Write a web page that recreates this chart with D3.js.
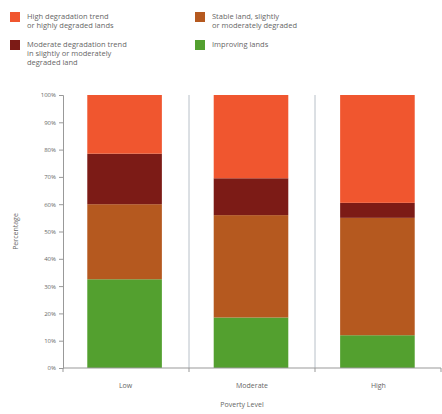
<!DOCTYPE html>
<html>
<head>
<meta charset="utf-8">
<script src="https://cdn.jsdelivr.net/npm/d3@7"></script>
<style>
  body { margin: 0; background: #fff; }
  text { font-family: "Open Sans", "DejaVu Sans", sans-serif; fill: #666; }
</style>
</head>
<body>
<div id="chart"></div>
<script>
'use strict';

// poverty level categories
var categories = ["Low", "Moderate", "High"];
// stacked series, bottom to top (percent)
var improving   = [32.5, 18.5, 12.0];
var stable      = [27.5, 37.5, 43.0];
var moderateDeg = [18.5, 13.5, 5.5];
var highDeg     = [21.5, 30.5, 39.5];
var yTicks = [0, 10, 20, 30, 40, 50, 60, 70, 80, 90, 100];

var seriesNames = ["improving", "stable", "moderateDeg", "highDeg"];
var colors = { improving: "#53a02f", stable: "#b5591f", moderateDeg: "#7c1b16", highDeg: "#f0562f" };

var legendItems = [
  { key: "highDeg", lines: ["High degradation trend", "or highly degraded lands"], col: 0, row: 0 },
  { key: "stable", lines: ["Stable land, slightly", "or moderately degraded"], col: 1, row: 0 },
  { key: "moderateDeg", lines: ["Moderate degradation trend", "in slightly or moderately", "degraded land"], col: 0, row: 1 },
  { key: "improving", lines: ["Improving lands"], col: 1, row: 1 }
];

var svgWidth = 442, svgHeight = 414,
    margin = { top: 95, bottom: 46, left: 63, right: 1 };
var width = svgWidth - margin.left - margin.right;
var height = svgHeight - margin.top - margin.bottom;

var data = categories.map(function(c, i) {
  return { cat: c, improving: improving[i], stable: stable[i], moderateDeg: moderateDeg[i], highDeg: highDeg[i] };
});

var svg = d3.select("#chart").append("svg")
  .attr("width", svgWidth)
  .attr("height", svgHeight);

// legend
var legend = svg.append("g");
var colX = [10, 195], rowY = [12, 40];
legendItems.forEach(function(item) {
  var g = legend.append("g")
    .attr("transform", "translate(" + colX[item.col] + "," + rowY[item.row] + ")");
  g.append("rect")
    .attr("width", 10).attr("height", 10)
    .attr("fill", colors[item.key]);
  item.lines.forEach(function(l, j) {
    g.append("text")
      .attr("x", 17)
      .attr("y", 7 + j * 9)
      .attr("font-size", 7.5)
      .text(l);
  });
});

var main = svg.append("g")
  .attr("transform", "translate(" + margin.left + "," + margin.top + ")");

var x = d3.scaleBand()
  .domain(categories)
  .range([0, width])
  .paddingInner(0.41)
  .paddingOuter(0.2);

var y = d3.scaleLinear()
  .domain([0, 100])
  .range([height, 0]);

// band separators
var step = width / categories.length;
main.selectAll(".sep")
  .data(d3.range(1, categories.length))
  .enter().append("line")
  .attr("class", "sep")
  .attr("x1", function(d) { return d * step; })
  .attr("x2", function(d) { return d * step; })
  .attr("y1", 0)
  .attr("y2", height)
  .attr("stroke", "#b8c0c8")
  .attr("stroke-width", 1);

var stack = d3.stack().keys(seriesNames);
var layers = stack(data);

main.selectAll(".layer")
  .data(layers)
  .enter().append("g")
  .attr("class", "layer")
  .attr("fill", function(d) { return colors[d.key]; })
  .selectAll("rect")
  .data(function(d) { return d; })
  .enter().append("rect")
  .attr("x", function(d) { return x(d.data.cat) - 1; })
  .attr("width", x.bandwidth())
  .attr("y", function(d) { return y(d[1]); })
  .attr("height", function(d) { return y(d[0]) - y(d[1]); });

// y axis
var yAxisG = main.append("g")
  .call(d3.axisLeft(y).tickValues(yTicks).tickSize(4).tickFormat(function(d) { return d + "%"; }));
yAxisG.select(".domain").attr("stroke", "#999");
yAxisG.selectAll(".tick line").attr("stroke", "#999");
yAxisG.selectAll(".tick text")
  .attr("font-size", 6)
  .attr("fill", "#666")
  .attr("x", -7)
  .style("font-family", "'Open Sans', sans-serif");

// x axis
var xAxisG = main.append("g")
  .attr("transform", "translate(0," + height + ")");
xAxisG.append("line")
  .attr("x1", 0).attr("x2", width)
  .attr("y1", 0).attr("y2", 0)
  .attr("stroke", "#999");
xAxisG.selectAll(".xt")
  .data(d3.range(0, categories.length + 1))
  .enter().append("line")
  .attr("x1", function(d) { return d * step; })
  .attr("x2", function(d) { return d * step; })
  .attr("y1", 0).attr("y2", 4)
  .attr("stroke", "#999");
xAxisG.selectAll(".xl")
  .data(categories)
  .enter().append("text")
  .attr("x", function(d) { return x(d) + x.bandwidth() / 2; })
  .attr("y", 20)
  .attr("text-anchor", "middle")
  .attr("font-size", 7)
  .text(function(d) { return d; });

// axis titles
main.append("text")
  .attr("x", width / 2 - 10)
  .attr("y", height + 39)
  .attr("text-anchor", "middle")
  .attr("font-size", 7)
  .text("Poverty Level");

main.append("text")
  .attr("transform", "rotate(-90)")
  .attr("x", -height / 2)
  .attr("y", -45)
  .attr("text-anchor", "middle")
  .attr("font-size", 7)
  .text("Percentage");
</script>
</body>
</html>
